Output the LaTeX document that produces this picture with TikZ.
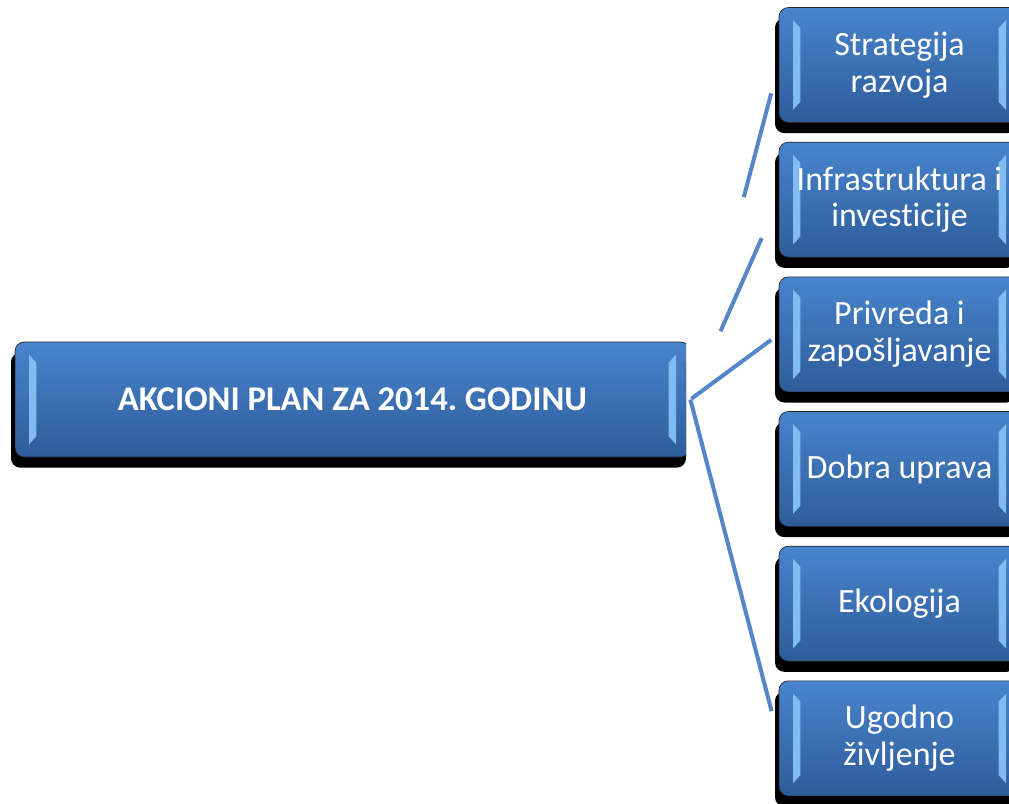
\documentclass[tikz,border=0pt]{standalone}
\usepackage{fontspec}
\setmainfont{Carlito}[Ligatures=CommonOff]
\usetikzlibrary{positioning, shadows, calc}
\usepackage{xcolor}
\definecolor{plantop}{RGB}{72, 132, 204}
\definecolor{planbot}{RGB}{46, 92, 155}
\definecolor{planbevel}{RGB}{128, 188, 242}
\definecolor{planline}{RGB}{84, 134, 200}
\tikzset{
  bevbox/.style={
    rectangle, rounded corners=7pt,
    top color=plantop, bottom color=planbot,
    draw=black!85, line width=0.5pt,
    drop shadow={shadow xshift=-3pt, shadow yshift=-8pt, fill=black, opacity=1},
    text=white, align=flush center, inner sep=0pt,
    path picture={
      \fill[planbevel, sharp corners]
        ($(path picture bounding box.north west)+(10.5pt,-9.5pt)$) --
        ($(path picture bounding box.north west)+(16pt,-15.5pt)$) --
        ($(path picture bounding box.south west)+(16pt,15.5pt)$) --
        ($(path picture bounding box.south west)+(10.5pt,9.5pt)$) -- cycle;
      \fill[planbevel, sharp corners]
        ($(path picture bounding box.north east)+(-10.5pt,-9.5pt)$) --
        ($(path picture bounding box.north east)+(-16pt,-15.5pt)$) --
        ($(path picture bounding box.south east)+(-16pt,15.5pt)$) --
        ($(path picture bounding box.south east)+(-10.5pt,9.5pt)$) -- cycle;
    }
  },
  mainbox/.style={
    bevbox, minimum width=506.25pt, minimum height=86.25pt,
    font=\fontsize{26}{30}\selectfont\bfseries
  },
  sidebox/.style={
    bevbox, minimum width=180.75pt, minimum height=86.25pt,
    text width=175pt, font=\fontsize{25.5}{27.5}\selectfont
  },
  conn/.style={line width=3pt, color=planline},
}
\frenchspacing

\begin{document}
\begin{tikzpicture}[x=0.75pt, y=0.75pt, node distance=14.25pt]
  \useasboundingbox (0,0) rectangle (1009,-803);
  \begin{scope}
    \clip (0,0) rectangle (686,-803);
    \node[mainbox] (plan) at (352.5,-399.5) {AKCIONI PLAN ZA 2014. GODINU};
  \end{scope}
  \node[sidebox] (strat) at (899.5,-65) {Strategija\\razvoja};
  \node[sidebox, below=of strat] (infra) {Infrastruktura i\\investicije};
  \node[sidebox, below=of infra] (priv)  {Privreda i\\zapošljavanje};
  \node[sidebox, below=of priv]  (uprava) {Dobra uprava};
  \node[sidebox, below=of uprava] (eko) {Ekologija};
  \node[sidebox, below=of eko]   (ugod) {Ugodno\\življenje};
  \draw[conn, shorten <=157pt, shorten >=22pt] (plan.east) -- (strat.west);
  \draw[conn, shorten <=56pt, shorten >=31.5pt] (plan.east) -- (infra.west);
  \draw[conn, shorten <=1pt, shorten >=7pt] (plan.east) -- (priv.west);
  \draw[conn, shorten >=21pt] (plan.east) -- (ugod.west);
\end{tikzpicture}
\end{document}
